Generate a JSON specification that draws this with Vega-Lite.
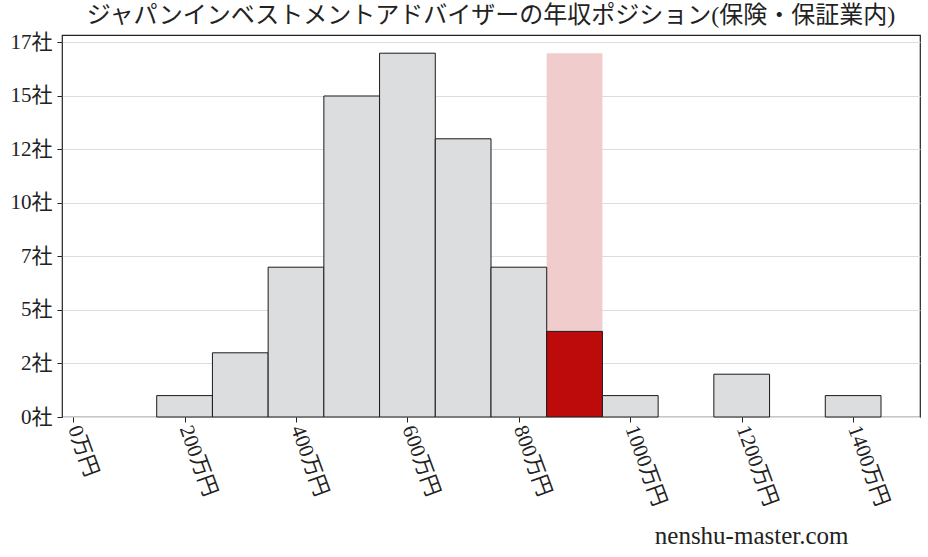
{
  "$schema": "https://vega.github.io/schema/vega-lite/v6.json",
  "autosize": {"type": "none"},
  "padding": {"left": 62, "top": 35, "right": 8, "bottom": 140},
  "width": 858,
  "height": 382,
  "background": "white",
  "config": {
    "font": "Liberation Serif, Noto Sans CJK JP",
    "view": {"stroke": "#222222", "strokeWidth": 1.2}
  },
  "title": {
    "text": "ジャパンインベストメントアドバイザーの年収ポジション(保険・保証業内)",
    "font": "Liberation Serif, Noto Sans CJK JP",
    "fontSize": 24,
    "fontWeight": "normal",
    "color": "#222222",
    "anchor": "middle",
    "offset": 3
  },
  "datasets": {
    "bars": [
      {"start": 150, "end": 250, "count": 1, "kind": "other"},
      {"start": 250, "end": 350, "count": 3, "kind": "other"},
      {"start": 350, "end": 450, "count": 7, "kind": "other"},
      {"start": 450, "end": 550, "count": 15, "kind": "other"},
      {"start": 550, "end": 650, "count": 17, "kind": "other"},
      {"start": 650, "end": 750, "count": 13, "kind": "other"},
      {"start": 750, "end": 850, "count": 7, "kind": "other"},
      {"start": 850, "end": 950, "count": 4, "kind": "self"},
      {"start": 950, "end": 1050, "count": 1, "kind": "other"},
      {"start": 1150, "end": 1250, "count": 2, "kind": "other"},
      {"start": 1350, "end": 1450, "count": 1, "kind": "other"}
    ],
    "highlight": [
      {"start": 850, "end": 950, "count": 17}
    ]
  },
  "layer": [
    {
      "data": {"name": "highlight"},
      "mark": {"type": "bar", "color": "#f0cccc", "strokeWidth": 0},
      "encoding": {
        "x": {
          "field": "start", "type": "quantitative",
          "scale": {"domain": [-20, 1520], "nice": false, "zero": false},
          "axis": {
            "values": [0, 200, 400, 600, 800, 1000, 1200, 1400],
            "labelExpr": "datum.value + '万円'",
            "labelAngle": 70,
            "labelAlign": "left",
            "labelBaseline": "middle",
            "labelFontSize": 21,
            "labelColor": "#222222",
            "labelPadding": 4,
            "tickSize": 5,
            "tickColor": "#222222",
            "domain": false,
            "grid": false,
            "title": "nenshu-master.com",
            "titleFontSize": 25,
            "titleFontWeight": "normal",
            "titleColor": "#222222",
            "titleAnchor": "end",
            "titleAlign": "right",
            "titleX": 786,
            "titleY": 126,
            "titleBaseline": "alphabetic"
          }
        },
        "x2": {"field": "end"},
        "y": {
          "field": "count", "type": "quantitative",
          "scale": {"domain": [0, 17.85], "nice": false},
          "axis": {
            "values": [0, 2.5, 5, 7.5, 10, 12.5, 15, 17.5],
            "labelExpr": "floor(datum.value) + '社'",
            "labelFontSize": 21,
            "labelColor": "#222222",
            "labelPadding": 5,
            "tickSize": 5,
            "tickColor": "#222222",
            "domain": false,
            "grid": true,
            "gridColor": "#dddddd",
            "gridWidth": 1,
            "title": null
          }
        },
        "y2": {"datum": 0}
      }
    },
    {
      "data": {"name": "bars"},
      "mark": {"type": "bar", "stroke": "#1a1a1a", "strokeWidth": 1},
      "encoding": {
        "x": {"field": "start", "type": "quantitative"},
        "x2": {"field": "end"},
        "y": {"field": "count", "type": "quantitative"},
        "y2": {"datum": 0},
        "color": {
          "field": "kind", "type": "nominal",
          "scale": {"domain": ["other", "self"], "range": ["#dcdddf", "#bd0a0a"]},
          "legend": null
        }
      }
    }
  ]
}
